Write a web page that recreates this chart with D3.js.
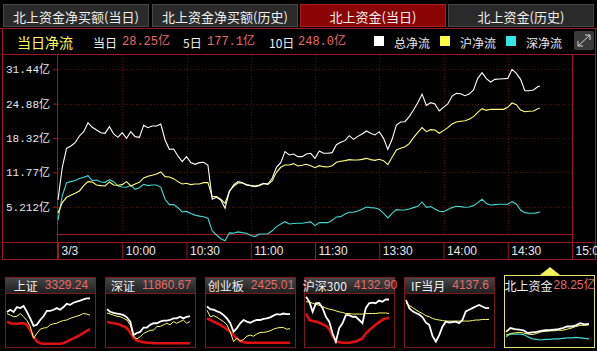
<!DOCTYPE html>
<html><head><meta charset="utf-8">
<script src="https://cdn.jsdelivr.net/npm/d3@7"></script>
<style>html,body{margin:0;padding:0;background:#000;overflow:hidden}</style>
</head><body><svg id="c" width="597" height="351"></svg>
<script>
// ---------- data ----------
const minutes = d3.range(0, 225, 2).concat([225]); // minutes after 9:30 (trading time)
const totalFlow = [
 6.5,12.73,16.35,16.80,17.43,18.71,19.53,21.25,20.36,19.85,
 19.34,19.22,20.49,19.09,18.45,19.34,18.26,19.53,18.58,18.45,
 20.74,20.30,20.62,20.62,21.00,17.94,16.16,16.23,14.89,13.81,
 14.76,13.62,13.30,13.62,13.68,13.17,6.62,7.00,6.49,4.9,
 8.08,9.35,9.99,9.80,9.35,9.23,9.16,9.35,9.67,9.54,
 10.63,12.73,13.62,15.72,15.08,15.27,14.76,14.76,15.27,15.40,
 14.44,15.84,15.40,15.40,15.53,17.05,17.50,17.82,18.77,18.07,
 18.64,19.09,19.66,19.22,18.90,19.53,18.26,16.16,18.07,20.81,
 21.38,21.44,22.40,23.67,25.07,26.72,24.56,25.07,24.82,23.48,
 24.18,24.82,26.34,26.85,26.79,26.41,26.72,27.49,29.71,30.80,
 29.65,29.01,29.52,29.59,29.65,29.71,31.43,30.67,29.52,27.36,
 27.36,27.49,28.12,28.25];
const shFlow = [
 4.0,5.98,7.00,7.38,7.76,8.21,9.23,9.99,9.93,9.35,
 9.23,9.16,9.93,9.35,9.29,9.42,9.99,9.16,9.54,9.86,
 10.69,11.01,11.20,11.45,11.84,10.94,10.88,10.56,9.99,9.54,
 9.67,9.42,9.54,9.54,9.80,9.80,7.13,7.13,6.62,5.85,
 8.21,9.10,9.74,9.74,9.42,9.23,9.04,9.23,9.61,9.48,
 10.12,11.77,12.73,13.17,13.17,13.43,12.98,13.11,13.30,13.04,
 12.66,13.04,12.85,12.79,13.04,13.68,13.87,14.00,14.19,14.13,
 14.13,14.25,14.44,14.19,14.06,14.25,14.00,13.24,14.63,16.03,
 16.35,16.67,17.24,18.39,19.41,20.30,19.53,19.92,19.85,19.22,
 19.73,20.30,21.00,21.38,21.51,21.63,21.89,22.40,23.22,23.92,
 23.61,23.80,23.80,23.80,23.80,24.18,25.01,24.69,23.67,23.35,
 23.42,23.48,23.92,23.99];
const szFlow = [
 2.6,7.3,9.8,10.0,10.2,10.6,10.82,11.14,10.18,10.31,
 9.93,9.86,10.37,9.93,9.16,8.97,8.91,9.29,8.53,8.84,
 9.48,9.23,9.35,9.35,8.91,6.62,5.6,5.6,5.0,4.2,
 4.3,3.9,3.6,3.4,3.3,3.0,0.6,-0.2,-0.9,-1.3,
 0.2,0.15,0.4,0.25,0.13,-0.3,-0.5,0.0,0.0,0.05,
 0.6,1.40,1.9,2.35,1.9,2.0,2.04,2.04,2.2,2.3,
 1.6,2.2,2.16,2.16,2.61,3.25,3.31,3.82,4.14,4.14,
 4.39,4.71,5.15,5.03,4.96,4.71,3.95,3.05,3.95,4.65,
 4.58,4.58,4.77,5.03,5.28,6.11,5.09,5.22,4.77,4.33,
 4.26,4.65,5.03,5.28,5.22,5.09,5.15,5.41,5.98,6.62,
 5.79,5.54,5.60,5.66,5.66,5.66,6.17,5.73,4.58,4.07,
 3.95,3.95,4.07,4.26];

const yTickValues = [5.212, 11.77, 18.32, 24.88, 31.44];
const yTickLabels = ["5.212亿", "11.77亿", "18.32亿", "24.88亿", "31.44亿"];
const xTickValues = [0, 30, 60, 90, 120, 150, 180, 210, 240];
const xTickLabels = ["3/3", "10:00", "10:30", "11:00", "11:30", "13:30", "14:00", "14:30", "15:00"];
const tabLabels = ["北上资金净买额(当日)", "北上资金净买额(历史)", "北上资金(当日)", "北上资金(历史)"];
const headerTitle = "当日净流";
const summaryLabels = ["当日", "5日", "10日"];
const summaryValues = ["28.25亿", "177.1亿", "248.0亿"];
const legendLabels = ["总净流", "沪净流", "深净流"];

const thumbTitles = ["上证", "深证", "创业板", "沪深300", "IF当月", "北上资金"];
const thumbValues = ["3329.24", "11860.67", "2425.01", "4132.90", "4137.6", "28.25亿"];
// mini charts (relative height 0-100)
const thumbWhite = [
 [65,69,65,74,72,76,65,53,39,41,50,57,67,67,69,72,69,74,80,78,82,84,86,88,90,90],
 [70,65,63,62,61,59,55,47,22,26,28,36,36,41,44,44,47,49,49,50,53,53,56,53,56,57],
 [75,70,69,66,64,59,53,44,28,35,44,50,47,45,48,50,50,52,53,55,58,61,60,62,61,61],
 [93,84,65,81,81,72,56,47,25,10,35,44,59,59,56,56,50,44,72,81,82,81,86,84,88,88],
 [87,72,66,63,60,55,45,41,20,10,22,38,47,45,46,47,44,50,66,69,72,75,78,75,72,72],
 [28,35,33,32,31,26,27,28,30,31,31,32,33,35,38,38,40,44,42,43]];
const thumbYellow = [
 [62,59,56,57,62,56,49,38,16,25,33,35,36,41,43,44,47,49,50,53,55,57,59,62,61,59],
 [63,61,59,57,56,53,50,41,20,15,19,25,28,31,31,38,38,41,44,41,47,44,47,50,44,47],
 [68,56,58,55,51,47,41,28,10,16,11,14,20,22,20,24,27,27,28,30,33,35,36,36,33,34],
 [84,83,81,79,77,75,72,70,69,67,65,64,62,62,61,61,61,61,62,62,62,62,63,63,63,62],
 [81,77,73,69,65,62,58,56,53,51,50,49,48,48,48,48,48,48,48,48,49,50,50,51,51,51],
 [22,25,26,27,26,24,23,25,28,29,30,30,31,31,33,35,38,40,40,41]];
const thumbRed = [
 [47,44,43,43,44,44,41,31,19,10,7,6,6,6,6,6,6,7,10,13,16,19,22,26,30,33],
 [47,45,44,43,41,38,35,27,17,12,10,9,8,8,7,7,7,7,7,7,7,7,7,7,7,7],
 [53,50,47,44,41,37,33,28,22,16,11,9,8,8,8,8,8,8,8,8,8,8,8,8,8,8],
 [62,50,48,47,45,42,39,33,20,11,9,8,8,8,9,10,13,16,25,31,36,41,46,50,53,54],
 [],
 []];
const thumbCyan = [[],[],[],[],[],
 [19,24,24,24,23,19,15,14,13,14,14,15,15,16,17,17,18,17,16,15]];

// ---------- drawing ----------
const svg = d3.select("#c");
const RED = "#9c1820";
const GRID = "#5a0808";
const CJK = "'Noto Sans CJK SC','Noto Sans',sans-serif";
const MONO = "'Liberation Mono','Noto Sans CJK SC',monospace";
const SANS = "'Liberation Sans','Noto Sans CJK SC',sans-serif";

svg.append("rect").attr("width", 597).attr("height", 351).attr("fill", "#000");

// tabs
const tabX = [3, 152, 300, 448];
tabLabels.forEach((t, i) => {
  const active = i === 2;
  svg.append("rect").attr("x", tabX[i] + 0.5).attr("y", 4.5).attr("width", 145).attr("height", 22)
    .attr("fill", active ? "#8a0404" : "#2a2a2a").attr("stroke", active ? "#a82020" : "#474747");
  svg.append("text").attr("x", tabX[i] + 73).attr("y", 16).attr("text-anchor", "middle")
    .attr("dominant-baseline", "central").attr("fill", "#f0f0f0")
    .style("font-family", CJK).style("font-size", "13px").text(t);
});

// frame lines
const frame = [
  [0, 28.5, 597, 28.5], [2, 54.5, 596, 54.5], [58, 234.5, 573, 234.5],
  [2, 242.5, 596, 242.5], [2, 259.5, 596, 259.5],
  [2.5, 28, 2.5, 260], [57.5, 54, 57.5, 260], [572.5, 54, 572.5, 243], [595.5, 28, 595.5, 260]];
svg.selectAll("line.frame").data(frame).join("line").attr("class", "frame")
  .attr("x1", d => d[0]).attr("y1", d => d[1]).attr("x2", d => d[2]).attr("y2", d => d[3])
  .attr("stroke", RED).attr("stroke-width", 1);

// header row
svg.append("text").attr("x", 17).attr("y", 42).attr("dominant-baseline", "central")
  .attr("fill", "#ffff5a").style("font-family", CJK).style("font-size", "14px").text(headerTitle);
const sumLX = [93, 183, 269], sumVX = [122, 207, 298];
summaryLabels.forEach((l, i) => {
  svg.append("text").attr("x", sumLX[i]).attr("y", 42).attr("dominant-baseline", "central")
    .attr("fill", "#f0f0f0").style("font-family", CJK).style("font-size", "12px").text(l);
  svg.append("text").attr("x", sumVX[i]).attr("y", 42).attr("dominant-baseline", "central")
    .attr("fill", "#e86a6a").style("font-family", MONO).style("font-size", "12px").text(summaryValues[i]);
});
const legColors = ["#ffffff", "#ffff44", "#33e6e6"];
const legSX = [374, 440, 506];
legendLabels.forEach((l, i) => {
  svg.append("rect").attr("x", legSX[i]).attr("y", 36).attr("width", 10).attr("height", 10).attr("fill", legColors[i]);
  svg.append("text").attr("x", legSX[i] + 20).attr("y", 42).attr("dominant-baseline", "central")
    .attr("fill", "#e8e8e8").style("font-family", CJK).style("font-size", "12px").text(l);
});
// expand icon
svg.append("rect").attr("x", 574).attr("y", 31).attr("width", 20).attr("height", 19).attr("rx", 2).attr("fill", "#3a3a3a");
const ic = svg.append("g").attr("stroke", "#d8d8d8").attr("stroke-width", 1).attr("fill", "none");
ic.append("line").attr("x1", 578).attr("y1", 46).attr("x2", 590).attr("y2", 35);
ic.append("path").attr("d", "M585,35 H590 V40");
ic.append("path").attr("d", "M578,41 V46 H583");

// scales
const x = d3.scaleLinear().domain([0, 240]).range([58, 572]);
const y = d3.scaleLinear().domain([-1.345, 34.27]).range([241, 54.5]);

// grid
svg.selectAll("line.hg").data(yTickValues).join("line").attr("class", "hg")
  .attr("x1", 58).attr("x2", 572).attr("y1", d => Math.round(y(d)) + 0.5).attr("y2", d => Math.round(y(d)) + 0.5)
  .attr("stroke", GRID).attr("stroke-dasharray", "1,2");
svg.selectAll("line.vg").data(xTickValues.slice(1, -1)).join("line").attr("class", "vg")
  .attr("y1", 55).attr("y2", 234).attr("x1", d => Math.round(x(d)) + 0.5).attr("x2", d => Math.round(x(d)) + 0.5)
  .attr("stroke", GRID).attr("stroke-dasharray", "1,2");

// y axis
const gy = svg.append("g").attr("transform", "translate(57,0)")
  .call(d3.axisLeft(y).tickValues(yTickValues).tickFormat((d, i) => yTickLabels[i]).tickSize(4).tickPadding(3));
gy.select(".domain").remove();
gy.selectAll("line").attr("stroke", RED);
gy.selectAll("text").attr("fill", "#e8e8e8").style("font-family", MONO).style("font-size", "11px");

// x axis
const gx = svg.append("g").attr("transform", "translate(0,242)")
  .call(d3.axisBottom(x).tickValues(xTickValues).tickFormat((d, i) => xTickLabels[i]).tickSize(17).tickPadding(0));
gx.select(".domain").remove();
gx.selectAll("line").attr("stroke", RED);
gx.selectAll("text").attr("text-anchor", "start").attr("x", 3).attr("y", 9).attr("dy", "0.35em")
  .attr("fill", "#e8e8e8").style("font-family", SANS).style("font-size", "12px");

// series lines
const line = d3.line().x((d, i) => x(minutes[i])).y(d => y(d));
[[szFlow, "#3fd9d2"], [shFlow, "#ffff7a"], [totalFlow, "#ffffff"]].forEach(([arr, c]) => {
  svg.append("path").datum(arr).attr("d", line).attr("fill", "none").attr("stroke", c).attr("stroke-width", 1.1);
});

// thumbnails
const thumbX = [5, 105, 205, 304, 404, 504];
thumbTitles.forEach((t, i) => {
  const x0 = thumbX[i], w = 90, top = 277, hh = 16, bot = 347;
  const g = svg.append("g");
  const sel = i === 5;
  if (!sel) {
    const gid = "hg" + i;
    const grad = svg.append("defs").append("linearGradient").attr("id", gid).attr("x1", 0).attr("y1", 0).attr("x2", 0).attr("y2", 1);
    grad.append("stop").attr("offset", "0%").attr("stop-color", "#474747");
    grad.append("stop").attr("offset", "100%").attr("stop-color", "#1e1e1e");
    g.append("rect").attr("x", x0 + 0.5).attr("y", top + 0.5).attr("width", w).attr("height", hh)
      .attr("fill", `url(#${gid})`).attr("stroke", "#7a1a1a");
    g.append("rect").attr("x", x0 + 0.5).attr("y", top + hh + 0.5).attr("width", w).attr("height", bot - top - hh)
      .attr("fill", "#000").attr("stroke", "#7a1a1a");
  } else {
    g.append("rect").attr("x", x0 + 0.5).attr("y", 275.5).attr("width", w).attr("height", bot - 275)
      .attr("fill", "#000").attr("stroke", "#e6e65a");
    g.append("path").attr("d", `M${x0 + 36},275 L${x0 + 56},275 L${x0 + 46},267 Z`).attr("fill", "#f2f25a");
  }
  const tt = g.append("text").attr("x", x0 + 46).attr("y", top + 8).attr("text-anchor", "middle")
    .attr("dominant-baseline", "central").style("font-size", "12px");
  tt.append("tspan").attr("fill", "#f0f0f0").style("font-family", CJK).text(t);
  tt.append("tspan").attr("fill", "#e46a6a").attr("dx", sel ? 1 : 7).style("font-family", SANS).text(thumbValues[i]);

  const ys = d3.scaleLinear().domain([0, 100]).range([bot, top + hh]);
  const series = [[thumbRed[i], "#e01010", 2.6], [thumbCyan[i], "#3fd9d2", 1.2], [thumbYellow[i], "#ffff66", 1], [thumbWhite[i], "#ffffff", 1.8]];
  series.forEach(([arr, c, sw]) => {
    if (!arr.length) return;
    const xs = d3.scaleLinear().domain([0, arr.length - 1]).range([x0 + 2, x0 + w - 5]);
    g.append("path").datum(arr).attr("d", d3.line().x((d, k) => xs(k)).y(d => ys(d)))
      .attr("fill", "none").attr("stroke", c).attr("stroke-width", sw);
  });
});
</script></body></html>
